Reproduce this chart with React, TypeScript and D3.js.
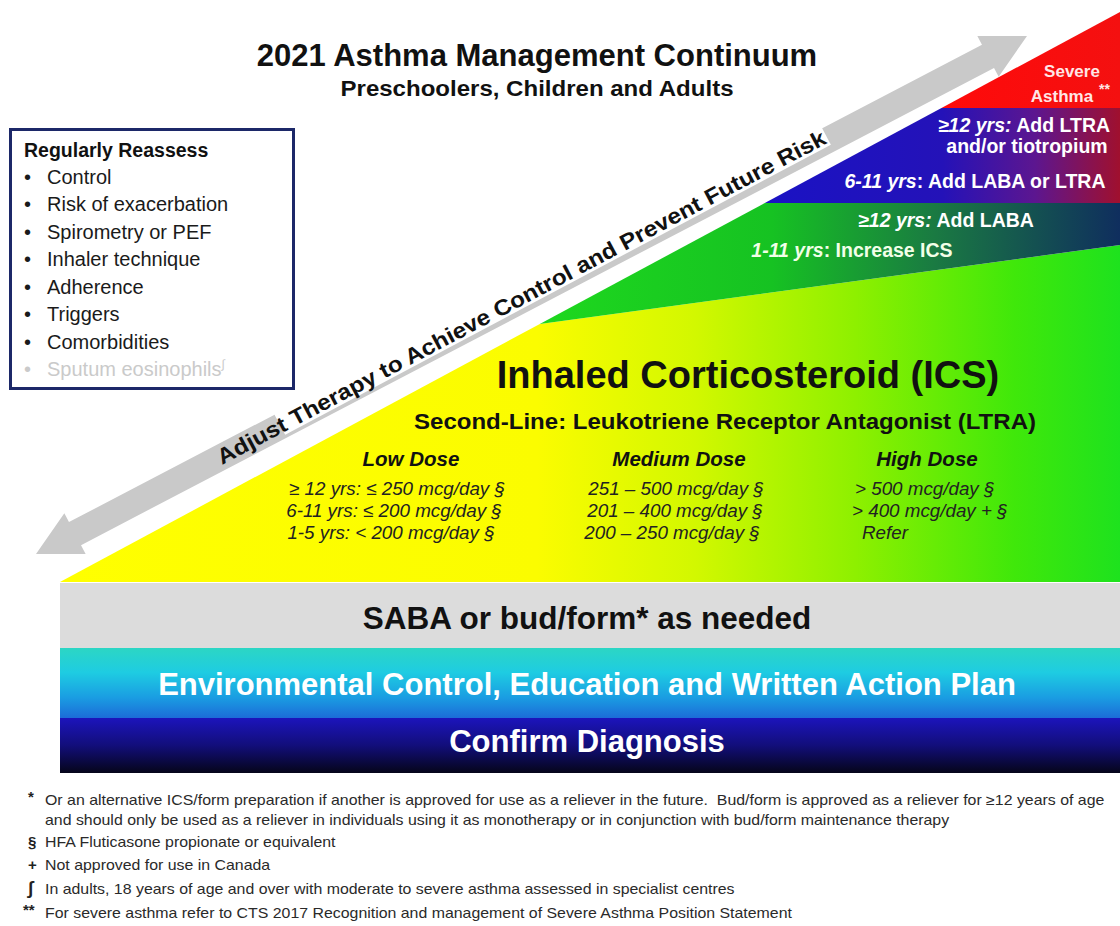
import React from "react";
import * as d3 from "d3";

const W = 1120;
const H = 926;

// ---------- content ----------
const titleText = "2021 Asthma Management Continuum";
const subtitleText = "Preschoolers, Children and Adults";
const reassessHeading = "Regularly Reassess";
const reassessItems = [
  "Control",
  "Risk of exacerbation",
  "Spirometry or PEF",
  "Inhaler technique",
  "Adherence",
  "Triggers",
  "Comorbidities",
  "Sputum eosinophils",
];
const severeLabel = ["Severe", "Asthma"];
const stepItalic = ["≥12 yrs:", "", "6-11 yrs", "≥12 yrs:", "1-11 yrs"];
const stepRegular = [" Add LTRA", "and/or tiotropium", ": Add LABA or LTRA", " Add LABA", ": Increase ICS"];
const icsTitle = "Inhaled Corticosteroid (ICS)";
const secondLine = "Second-Line: Leukotriene Receptor Antagonist (LTRA)";
const doseLevels = ["Low Dose", "Medium Dose", "High Dose"];
const lowDose = ["≥ 12 yrs: ≤ 250 mcg/day §", "6-11 yrs: ≤ 200 mcg/day §", "1-5 yrs: < 200 mcg/day §"];
const mediumDose = ["251 – 500 mcg/day §", "201 – 400 mcg/day §", "200 – 250 mcg/day §"];
const highDose = ["> 500 mcg/day §", "> 400 mcg/day + §", "Refer"];
const foundationBands = [
  "SABA or bud/form* as needed",
  "Environmental Control, Education and Written Action Plan",
  "Confirm Diagnosis",
];
const arrowLabel = "Adjust Therapy to Achieve Control and Prevent Future Risk";
const footnoteMarks = ["*", "§", "+", "∫", "**"];
const footnoteLines = [
  [
    "Or an alternative ICS/form preparation if another is approved for use as a reliever in the future.  Bud/form is approved as a reliever for ≥12 years of age",
    "and should only be used as a reliever in individuals using it as monotherapy or in conjunction with bud/form maintenance therapy",
  ],
  ["HFA Fluticasone propionate or equivalent"],
  ["Not approved for use in Canada"],
  ["In adults, 18 years of age and over with moderate to severe asthma assessed in specialist centres"],
  ["For severe asthma refer to CTS 2017 Recognition and management of Severe Asthma Position Statement"],
];

// ---------- layout ----------
const FONT = "'Liberation Sans', Arial, Helvetica, sans-serif";
const baseY = 582; // bottom of the step triangle
const topY = 12; // apex at right edge
const leftX = 60;
const rightX = 1120;
const hypX = d3.scaleLinear().domain([baseY, topY]).range([leftX, rightX]);
const redBottom = 108;
const purpleBottom = 203;
const ledgeLeftY = 324;
const ledgeRightY = 245;

const line = d3.line();

export default function App() {
  const redPoly = line([
    [hypX(redBottom), redBottom],
    [rightX, topY],
    [rightX, redBottom],
  ]) + "Z";
  const purplePoly = line([
    [hypX(purpleBottom), purpleBottom],
    [hypX(redBottom), redBottom],
    [rightX, redBottom],
    [rightX, purpleBottom],
  ]) + "Z";
  const greenPoly = line([
    [hypX(ledgeLeftY), ledgeLeftY],
    [hypX(purpleBottom), purpleBottom],
    [rightX, purpleBottom],
    [rightX, ledgeRightY],
  ]) + "Z";
  const icsPoly = line([
    [leftX, baseY],
    [hypX(ledgeLeftY), ledgeLeftY],
    [rightX, ledgeRightY],
    [rightX, baseY],
  ]) + "Z";

  // arrow
  const p1: [number, number] = [36, 554];
  const p2: [number, number] = [1027, 36];
  const L = Math.hypot(p2[0] - p1[0], p2[1] - p1[1]);
  const ang = (Math.atan2(p2[1] - p1[1], p2[0] - p1[0]) * 180) / Math.PI;
  const hl = 44, hw = 23, sw = 13;
  const arrowPts: [number, number][] = [
    [0, 0], [hl, -hw], [hl, -sw], [L - hl, -sw], [L - hl, -hw], [L, 0],
    [L - hl, hw], [L - hl, sw], [hl, sw], [hl, hw],
  ];
  const arrowPath = line(arrowPts) + "Z";

  // bands
  const bandY = d3.scaleOrdinal<string, number>().domain(foundationBands).range([583, 648, 718]);
  const bandH = d3.scaleOrdinal<string, number>().domain(foundationBands).range([65, 70, 55]);
  const bandFill = ["#dcdcdc", "url(#cyanGrad)", "url(#navyGrad)"];
  const bandText = ["#111", "#fff", "#fff"];
  const bandBase = [629, 695, 752];
  const bandSize = [31.5, 31, 31];

  const itemY = d3.scaleLinear().domain([0, reassessItems.length - 1]).range([184, 376]);
  const stepTextX = [1024, 1027, 975, 946, 852];
  const stepTextY = [132, 153, 188, 227, 257];

  const doseCenters = [411, 679, 927];
  const rowY = d3.scaleLinear().domain([0, 2]).range([495, 539]);
  const lowX = [397, 394, 391];
  const medX = [676, 675, 672];
  const highX = [855, 852, 862];

  const fnY = [805, 825, 847, 870, 894, 918];

  return (
    <svg
      width={W}
      height={H}
      viewBox={`0 0 ${W} ${H}`}
      style={{ position: "absolute", left: 0, top: 0, background: "#fff", fontFamily: FONT }}
    >
      <defs>
        <linearGradient id="icsGrad" gradientUnits="userSpaceOnUse" x1={leftX} y1={0} x2={rightX} y2={0}>
          <stop offset="0" stopColor="#ffff00" />
          <stop offset="0.45" stopColor="#fbfc00" />
          <stop offset="0.6" stopColor="#d2f800" />
          <stop offset="0.75" stopColor="#8ef000" />
          <stop offset="0.9" stopColor="#40e80a" />
          <stop offset="1" stopColor="#1ee21e" />
        </linearGradient>
        <linearGradient id="greenGrad" gradientUnits="userSpaceOnUse" x1={540} y1={0} x2={rightX} y2={0}>
          <stop offset="0" stopColor="#1ed81e" />
          <stop offset="0.4" stopColor="#16c222" />
          <stop offset="0.68" stopColor="#1a7a42" />
          <stop offset="1" stopColor="#0f2e5e" />
        </linearGradient>
        <linearGradient id="purpleGrad" gradientUnits="userSpaceOnUse" x1={hypX(purpleBottom)} y1={0} x2={rightX} y2={0}>
          <stop offset="0" stopColor="#1a12c4" />
          <stop offset="0.5" stopColor="#2412b8" />
          <stop offset="0.76" stopColor="#5c1690" />
          <stop offset="1" stopColor="#a0102e" />
        </linearGradient>
        <linearGradient id="redGrad" gradientUnits="userSpaceOnUse" x1={hypX(redBottom)} y1={0} x2={rightX} y2={0}>
          <stop offset="0" stopColor="#ff0a0a" />
          <stop offset="1" stopColor="#f41010" />
        </linearGradient>
        <linearGradient id="cyanGrad" gradientUnits="userSpaceOnUse" x1={0} y1={648} x2={0} y2={718}>
          <stop offset="0" stopColor="#2cd6c4" />
          <stop offset="0.35" stopColor="#1ecce2" />
          <stop offset="0.7" stopColor="#1a9ee2" />
          <stop offset="1" stopColor="#1c6cd8" />
        </linearGradient>
        <linearGradient id="navyGrad" gradientUnits="userSpaceOnUse" x1={0} y1={718} x2={0} y2={773}>
          <stop offset="0" stopColor="#1c14bc" />
          <stop offset="0.5" stopColor="#120e7a" />
          <stop offset="1" stopColor="#05051a" />
        </linearGradient>
      </defs>

      {/* Title */}
      <text x={537} y={66} textAnchor="middle" fontSize={31} fontWeight="bold" fill="#111">{titleText}</text>
      <text x={537} y={96} textAnchor="middle" fontSize={22} fontWeight="bold" fill="#111"
        textLength={393} lengthAdjust="spacingAndGlyphs">{subtitleText}</text>

      {/* Step triangle */}
      <path d={icsPoly} fill="url(#icsGrad)" />
      <path d={greenPoly} fill="url(#greenGrad)" />
      <path d={purplePoly} fill="url(#purpleGrad)" />
      <path d={redPoly} fill="url(#redGrad)" />

      {/* Severe asthma */}
      <text x={1072} y={77} textAnchor="middle" fontSize={17} fontWeight="bold" fill="#ffe6e6">{severeLabel[0]}</text>
      <text x={1062} y={102} textAnchor="middle" fontSize={17} fontWeight="bold" fill="#ffe6e6">{severeLabel[1]}</text>
      <text x={1099} y={94} fontSize={14} fontWeight="bold" fill="#ffe6e6">**</text>

      {stepItalic.map((it, i) => (
        <text key={i} x={stepTextX[i]} y={stepTextY[i]} textAnchor="middle" fontSize={19.5} fontWeight="bold"
          fill={i === 4 ? "#f2ffe8" : "#ffffff"}>
          {it ? <tspan fontStyle="italic">{it}</tspan> : null}
          {stepRegular[i]}
        </text>
      ))}

      {/* ICS text */}
      <text x={748} y={388} textAnchor="middle" fontSize={38} fontWeight="bold" fill="#111">{icsTitle}</text>
      <text x={725} y={429} textAnchor="middle" fontSize={22} fontWeight="bold" fill="#111"
        textLength={622} lengthAdjust="spacingAndGlyphs">{secondLine}</text>
      {doseLevels.map((d, i) => (
        <text key={d} x={doseCenters[i]} y={466} textAnchor="middle" fontSize={20.5} fontWeight="bold" fontStyle="italic" fill="#111">{d}</text>
      ))}
      {lowDose.map((t, i) => (
        <text key={"l" + i} x={lowX[i]} y={rowY(i)} textAnchor="middle" fontSize={18.8} fontStyle="italic" fill="#222">{t}</text>
      ))}
      {mediumDose.map((t, i) => (
        <text key={"m" + i} x={medX[i]} y={rowY(i)} textAnchor="middle" fontSize={18.8} fontStyle="italic" fill="#222">{t}</text>
      ))}
      {highDose.map((t, i) => (
        <text key={"h" + i} x={highX[i]} y={rowY(i)} fontSize={18.8} fontStyle="italic" fill="#222">{t}</text>
      ))}

      {/* Arrow */}
      <g transform={`translate(${p1[0]},${p1[1]}) rotate(${ang})`}>
        <path d={arrowPath} fill="#c9c9c9" />
      </g>
      <g transform={`translate(222,465) rotate(-28)`}>
        <rect x={70} y={-24} width={618} height={27} fill="#fff" />
        <text x={0} y={0} fontSize={22} fontWeight="bold" fill="#111"
          textLength={686} lengthAdjust="spacingAndGlyphs">{arrowLabel}</text>
      </g>

      {/* Reassess box */}
      <rect x={10.5} y={129.5} width={283} height={259} fill="#fff" stroke="#1c2868" strokeWidth={3} />
      <text x={24} y={157} fontSize={19.5} fontWeight="bold" fill="#111">{reassessHeading}</text>
      {reassessItems.map((t, i) => {
        const last = i === reassessItems.length - 1;
        const col = last ? "#cacaca" : "#1a1a1a";
        return (
          <g key={t}>
            <text x={24} y={itemY(i)} fontSize={20} fill={col}>•</text>
            <text x={47} y={itemY(i)} fontSize={20} fill={col}>
              {t}
              {last ? <tspan fontSize={12} dy={-8}>∫</tspan> : null}
            </text>
          </g>
        );
      })}

      {/* Foundation bands */}
      {foundationBands.map((b, i) => (
        <g key={b}>
          <rect x={leftX} y={bandY(b)} width={rightX - leftX} height={bandH(b)} fill={bandFill[i]} />
          <text x={587} y={bandBase[i]} textAnchor="middle" fontSize={bandSize[i]}
            fontWeight="bold" fill={bandText[i]}>{b}</text>
        </g>
      ))}

      {/* Footnotes */}
      {footnoteMarks.map((m, i) => {
        const first = footnoteLines.slice(0, i).reduce((a, l) => a + l.length, 0);
        return (
          <g key={i}>
            <text x={m === "**" ? 23 : 28} y={fnY[first] - (m.includes("*") ? 3 : 0)} fontSize={m === "∫" ? 18 : 15} fontWeight="bold" fill="#222">{m}</text>
            {footnoteLines[i].map((l, j) => (
              <g key={j} transform={`translate(45,${fnY[first + j]}) scale(1.135,1)`}>
                <text x={0} y={0} fontSize={14} fill="#2a2a2a" style={{ whiteSpace: "pre" }}>{l}</text>
              </g>
            ))}
          </g>
        );
      })}
    </svg>
  );
}
